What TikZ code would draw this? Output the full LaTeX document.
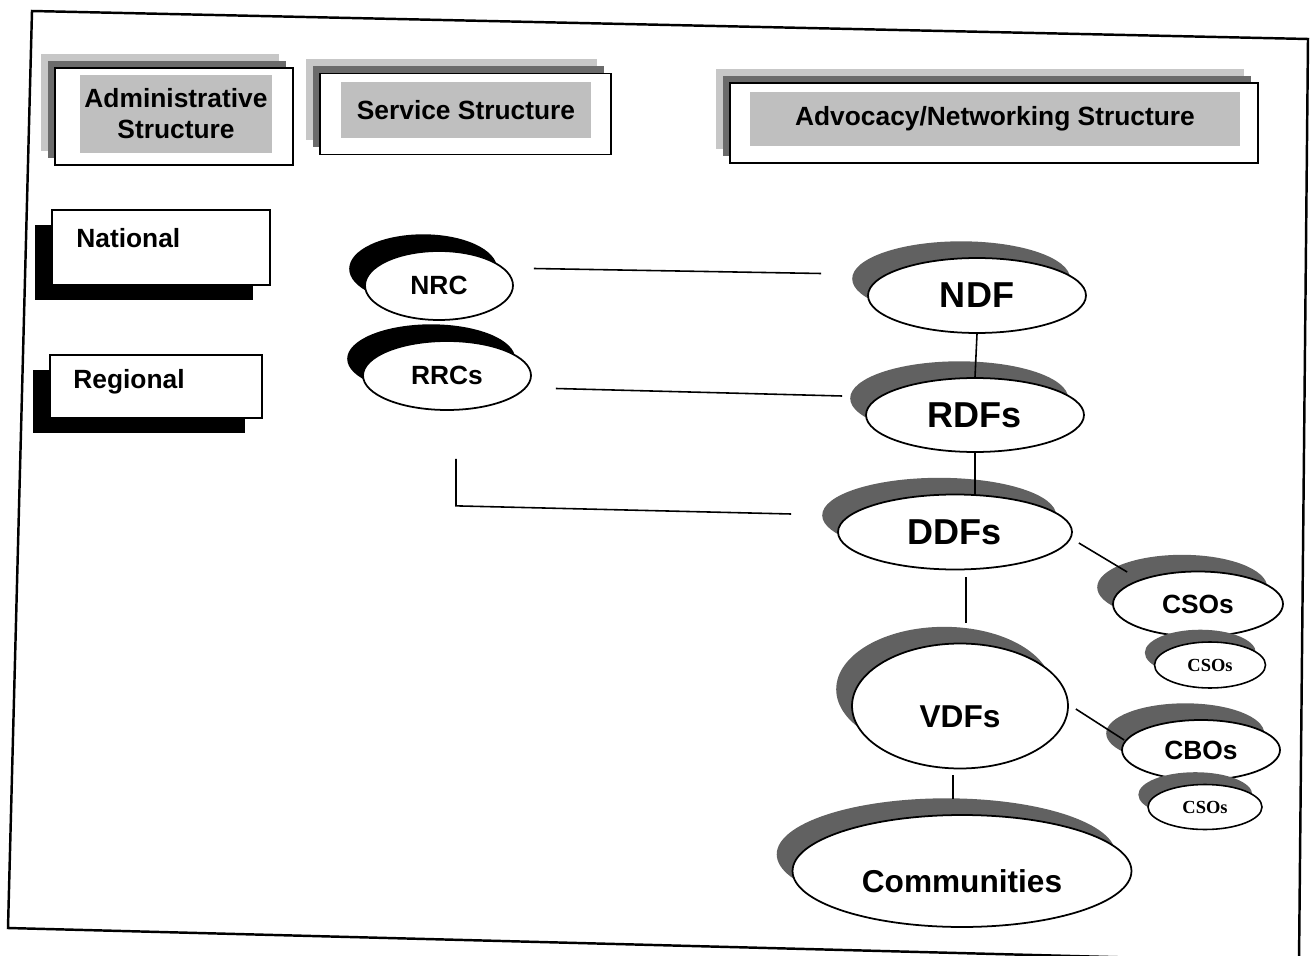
\documentclass[tikz,border=0pt]{standalone}
\usepackage{fontspec}
\setmainfont{Liberation Sans}
\newfontfamily\serifsmall{Liberation Serif}
\usetikzlibrary{shapes.geometric, shadows}

\begin{document}
\begin{tikzpicture}[x=0.02cm, y=-0.02cm]
\tikzstyle{frame} = [draw=black, line width=1.4pt]
\tikzstyle{head} = [draw=black, line width=1pt, fill=white, general shadow={fill=black!22, shadow xshift=-8pt, shadow yshift=8pt}, general shadow={fill=black!58, shadow xshift=-4pt, shadow yshift=4pt}]
\tikzstyle{headtext} = [fill=black!25, align=center, inner sep=0pt, font=\fontsize{15}{17.6}\selectfont\bfseries]
\tikzstyle{level} = [draw=black, line width=1.2pt, fill=white, general shadow={fill=black, shadow xshift=-9.5pt, shadow yshift=-8.5pt}]
\tikzstyle{leveltext} = [anchor=west, inner sep=0pt, font=\fontsize{15}{18}\selectfont\bfseries]
\tikzstyle{link} = [draw=black, line width=0.9pt]
\tikzset{
  blob/.style={ellipse, draw=black, line width=1pt, fill=white, inner sep=0pt, general shadow={fill=#1, shadow xshift=-9pt, shadow yshift=9.5pt}},
  blob/.default=black!62,
  smallblob/.style={ellipse, draw=black, line width=0.9pt, fill=white, inner sep=0pt, font=\serifsmall\fontsize{10.5}{12}\selectfont\bfseries, general shadow={fill=black!62, shadow xshift=-5.5pt, shadow yshift=7pt}}
}

\useasboundingbox (0,0) rectangle (1312,956);
\draw[frame] (32,11) -- (1308,39) -- (1299,962) -- (8,928) -- cycle;

% column headings
\node[head, minimum width=4.76cm, minimum height=1.94cm] (adminbox) at (174,116.5) {};
\node[headtext, minimum width=3.84cm, minimum height=1.56cm] (admin) at (176,114) {Administrative\\Structure};
\node[head, minimum width=5.82cm, minimum height=1.62cm] (servbox) at (465.5,114) {};
\node[headtext, minimum width=5.02cm, minimum height=1.14cm] (serv) at (466,110) {Service Structure};
\node[head, minimum width=10.56cm, minimum height=1.6cm] (advbox) at (994,123) {};
\node[headtext, minimum width=9.8cm, minimum height=1.1cm] (adv) at (995,119) {Advocacy/Networking Structure};

% levels
\node[level, minimum width=4.36cm, minimum height=1.5cm] (natbox) at (161,247.5) {};
\node[leveltext] (nat) at (76,238) {National};
\node[level, minimum width=4.24cm, minimum height=1.26cm] (regbox) at (156,386.5) {};
\node[leveltext] (reg) at (73,382) {Regional};

% service structure
\node[blob=black, minimum width=2.96cm, minimum height=1.38cm, font=\fontsize{15}{18}\selectfont\bfseries] (NRC) at (439,285.5) {NRC};
\node[blob=black, minimum width=3.36cm, minimum height=1.38cm, font=\fontsize{15}{18}\selectfont\bfseries] (RRC) at (447,375.5) {RRCs};

% advocacy structure
\node[blob, minimum width=4.36cm, minimum height=1.5cm, font=\fontsize{20.5}{24}\selectfont\bfseries] (NDF) at (977,295.5) {NDF};
\node[blob, minimum width=4.36cm, minimum height=1.48cm, font=\fontsize{20.5}{24}\selectfont\bfseries] (RDF) at (975,415) {RDFs};
\node[blob, minimum width=4.68cm, minimum height=1.5cm, font=\fontsize{20.5}{24}\selectfont\bfseries] (DDF) at (955,532) {DDFs};
\node[blob, minimum width=3.4cm, minimum height=1.3cm, font=\fontsize{15}{18}\selectfont\bfseries] (CSO) at (1198,604) {CSOs};
\node[smallblob, minimum width=2.22cm, minimum height=0.92cm] (CSOa) at (1210,665) {CSOs};
\node[blob, minimum width=4.32cm, minimum height=2.5cm, text height=24pt, text depth=0pt, font=\fontsize{18}{21}\selectfont\bfseries] (VDF) at (960,706) {VDFs};
\node[blob, minimum width=3.16cm, minimum height=1.2cm, font=\fontsize{15}{18}\selectfont\bfseries] (CBO) at (1201,750) {CBOs};
\node[smallblob, minimum width=2.28cm, minimum height=0.9cm] (CSOb) at (1205,807) {CSOs};
\node[blob, minimum width=6.78cm, minimum height=2.24cm, text height=24pt, text depth=0pt, font=\fontsize{18}{21}\selectfont\bfseries] (COM) at (962,871) {Communities};

% links
\draw[link] ([shift={(20,-17)}]NRC.east) -- ([shift={(-46,-22)}]NDF.west);
\draw[link] ([shift={(24,13)}]RRC.east) -- ([shift={(-23,-19)}]RDF.west);
\draw[link] ([shift={(9,48)}]RRC.south) -- ++(0,47) -- ([shift={(-46,-18)}]DDF.west);
\draw[link] (NDF.south) -- (RDF.north);
\draw[link] (RDF.south) -- (RDF.south |- DDF.north);
\draw[link] ([shift={(11,7)}]DDF.south) -- ([shift={(6,-20)}]VDF.north);
\draw[link] ([shift={(6,11)}]DDF.east) -- ([shift={(15,-32)}]CSO.west);
\draw[link] ([shift={(7,3)}]VDF.east) -- ([shift={(3,-10)}]CBO.west);
\draw[link] ([shift={(-7,6)}]VDF.south) -- ([shift={(-9,-15)}]COM.north);
\end{tikzpicture}
\end{document}
